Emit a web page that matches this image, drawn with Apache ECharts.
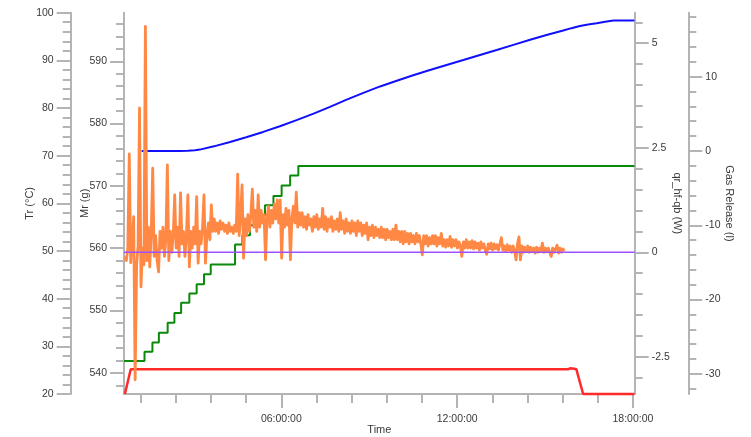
<!DOCTYPE html>
<html><head><meta charset="utf-8">
<script src="https://cdn.jsdelivr.net/npm/echarts@6/dist/echarts.min.js"></script>
<style>html,body{margin:0;padding:0;background:#fff}#c{width:751px;height:437px}</style>
</head><body><div id="c"></div>
<script>
// ---------- data (hours since start / values) ----------
const xMajorTicks = [6, 12, 18];
const xTickLabels = ['06:00:00', '12:00:00', '18:00:00'];
const xMinorTicks = [1.2, 2.4, 3.6, 4.8, 6, 7.2, 8.4, 9.6, 10.8, 12, 13.2, 14.4, 15.6, 16.8, 18];

const trLabels = [20, 30, 40, 50, 60, 70, 80, 90, 100];
const mrLabels = [540, 550, 560, 570, 580, 590];
const qrLabels = [-2.5, 0, 2.5, 5];
const gasLabels = [-30, -20, -10, 0, 10];

// Tr (°C) – red
const trHours  = [0.66, 0.86, 15.78, 15.87, 15.99, 16.07, 16.30, 18.05];
const trValues = [20.0, 25.18, 25.18, 25.4, 25.3, 25.18, 20.0, 20.0];

// Mr (g) – green (dosing steps)
const mrHours  = [0.63, 1.33, 1.60, 1.82, 2.12, 2.35, 2.58, 2.86, 3.11, 3.36, 3.59, 4.42, 4.67, 4.93, 5.19, 5.44, 5.73, 6.01, 6.30, 6.58, 18.05];
const mrValues = [541.88, 543.37, 544.88, 546.42, 548.02, 549.62, 551.23, 552.74, 554.23, 555.83, 557.39, 560.60, 562.09, 563.69, 565.30, 566.90, 568.39, 570.06, 571.66, 573.20, 573.20];

// Gas Release (l) – blue
const gasHours  = [1.23, 2.54, 2.81, 3.05, 3.22, 3.70, 4.25, 4.80, 5.38, 5.95, 6.52, 7.10, 7.66, 8.23, 8.80, 9.37, 9.94, 10.50, 11.07, 11.64, 12.21, 12.78, 13.35, 13.92, 14.49, 15.05, 15.62, 15.90, 16.19, 16.47, 16.76, 17.05, 17.33, 18.05];
const gasValues = [0, 0, 0.02, 0.08, 0.18, 0.62, 1.21, 1.85, 2.56, 3.32, 4.14, 5.02, 5.93, 6.90, 7.82, 8.68, 9.45, 10.18, 10.89, 11.57, 12.24, 12.92, 13.59, 14.27, 14.95, 15.60, 16.20, 16.52, 16.82, 17.02, 17.18, 17.38, 17.54, 17.54];

// qr_hf-qb (W) – orange, sampled every qrStepHour from qrStartHour
const qrStartHour = 0.66;
const qrStepHour = 0.05;
const qrValues = [
 -0.1, -0.2, 0.1, 2.35, -0.25, 0.3, 0.85, -3.05, -0.3, 0.15,
 3.45, -0.83, 0.1, -0.3, 5.40, -0.2, 0.6, -0.35, 0.5, 2.01,
 -0.1, 0.4, -0.2, -0.47, 0.5, 0.1, 0.6, -0.1, 0.3, 2.09,
 -0.2, 0.5, 0.0, 0.4, 1.37, 0.1, 0.6, -0.1, 1.42, 0.2,
 0.5, -0.1, 0.4, 1.37, -0.35, 0.5, 0.1, 0.6, 0.2, 1.33,
 -0.26, 0.5, 0.2, 0.6, 1.37, -0.26, 0.4, 0.7, 0.3, 1.13,
 0.5, 0.8, 0.5, 0.7, 0.45, 0.75, 0.55, 0.7, 0.5, 0.65,
 0.45, 0.7, 0.5, 0.6, 0.45, 0.65, 0.5, 1.87, 0.4, 0.9,
 1.61, -0.14, 0.8, 0.4, 0.9, 0.5, 0.9, 1.51, 0.6, 1.0,
 0.5, 1.37, 0.6, 1.0, 0.7, 0.9, -0.18, 0.8, 1.1, 0.6,
 1.0, 0.7, 1.15, 0.8, 1.25, 0.7, 1.25, -0.14, 0.9, 0.6,
 1.05, 0.65, 1.0, -0.18, 0.8, 1.1, 0.7, 1.44, 0.6, 0.95,
 0.65, 0.95, 0.6, 0.85, 0.55, 0.9, 0.65, 0.8, 0.5, 0.85,
 0.6, 0.9, 0.55, 0.8, 0.6, 1.05, 0.55, 0.85, 0.5, 0.8,
 0.6, 0.85, 0.5, 0.75, 0.55, 0.8, 0.5, 0.95, 0.55, 0.75,
 0.45, 0.8, 0.5, 0.7, 0.45, 0.75, 0.5, 0.7, 0.4, 0.75,
 0.5, 0.7, 0.4, 0.65, 0.45, 0.7, 0.3, 0.6, 0.4, 0.65,
 0.35, 0.6, 0.4, 0.55, 0.35, 0.6, 0.35, 0.55, 0.3, 0.55,
 0.35, 0.5, 0.3, 0.55, 0.3, 0.65, 0.3, 0.5, 0.25, 0.5,
 0.2, 0.5, 0.25, 0.45, 0.2, 0.45, 0.25, 0.4, 0.2, 0.45,
 0.25, 0.4, 0.2, -0.06, 0.4, 0.2, 0.4, 0.15, 0.35, 0.2,
 0.4, 0.2, 0.4, 0.15, 0.35, 0.2, 0.45, 0.15, 0.3, 0.12,
 0.3, 0.15, 0.38, 0.12, 0.3, 0.15, 0.3, 0.1, 0.25, 0.15,
 -0.1, 0.25, 0.1, 0.3, 0.1, 0.25, 0.1, 0.28, 0.08, 0.25,
 0.1, 0.22, 0.05, 0.25, 0.1, 0.2, 0.05, -0.05, 0.2, 0.08,
 0.22, 0.05, 0.2, 0.08, 0.18, 0.05, 0.2, 0.35, 0.05, 0.15,
 0.02, 0.18, 0.05, 0.15, 0.0, 0.15, 0.05, -0.18, 0.2, 0.37,
 -0.18, 0.15, 0.0, 0.12, 0.02, 0.15, 0.0, 0.12, 0.03, 0.1,
 -0.02, 0.12, 0.0, 0.1, 0.02, 0.22, 0.0, 0.1, 0.02, 0.1,
 0.0, -0.1, 0.1, 0.0, 0.08, 0.17, -0.02, 0.1, 0.0, 0.08, 0.03
];

// zero reference line on qr axis – purple
const zeroHours = [0.63, 18.06];
const zeroValues = [0, 0];

// ---------- build ----------
function range(a, b, s) { const r = []; for (let v = a; v <= b + 1e-9; v += s) r.push(+v.toFixed(4)); return r; }
const trMinor = range(20, 100, 2);
const mrMinor = range(538, 596, 2);
const qrMinor = range(-3, 5.5, 0.5);
const gasMinor = range(-32, 18, 2);

const zip = (h, v) => h.map((x, i) => [x, v[i]]);
const qrData = qrValues.map((v, i) => [qrStartHour + i * qrStepHour, v]);

const AX = '#b4b4b4', TXT = '#3a3a3a', FF = "'Liberation Sans', Arial, sans-serif";
const X_MIN = 0.63, X_MAX = 18.06;

function yMain(o) {
  return {
    type: 'value', position: o.pos, offset: o.offset, min: o.min, max: o.max,
    name: o.name, nameLocation: 'middle', nameGap: o.gap, nameRotate: o.rot, nameMoveOverlap: false,
    nameTextStyle: { color: TXT, fontSize: 11, fontFamily: FF },
    axisLine: { show: true, onZero: false, lineStyle: { color: AX, width: 2 } },
    axisTick: { show: true, length: 14, customValues: o.labels, lineStyle: { color: AX, width: 2 } },
    axisLabel: { show: true, customValues: o.labels, margin: 17, color: TXT, fontSize: 10.5, fontFamily: FF },
    splitLine: { show: false }
  };
}
function yMinor(o) {
  return {
    type: 'value', position: o.pos, offset: o.offset, min: o.min, max: o.max,
    axisLine: { show: false, onZero: false },
    axisTick: { show: true, length: 8, customValues: o.minor, lineStyle: { color: AX, width: 2 } },
    axisLabel: { show: false },
    splitLine: { show: false }
  };
}

const axesDef = [
  { pos: 'left', offset: 53.3, min: 20, max: 100, name: 'Tr (°C)', gap: 35, rot: 90, labels: trLabels, minor: trMinor },
  { pos: 'left', offset: 0, min: 536.6, max: 597.8, name: 'Mr (g)', gap: 34, rot: 90, labels: mrLabels, minor: mrMinor },
  { pos: 'right', offset: 0, min: -3.39, max: 5.73, name: 'qr_hf-qb (W)', gap: 37, rot: -90, labels: qrLabels, minor: qrMinor },
  { pos: 'right', offset: 53.6, min: -32.7, max: 18.6, name: 'Gas Release (l)', gap: 35, rot: -90, labels: gasLabels, minor: gasMinor }
];

const yAxis = axesDef.map(yMain).concat(axesDef.map(yMinor));

const xAxis = [
  {
    type: 'value', position: 'bottom', min: X_MIN, max: X_MAX,
    name: 'Time', nameLocation: 'middle', nameGap: 30, nameMoveOverlap: false,
    nameTextStyle: { color: TXT, fontSize: 11, fontFamily: FF },
    axisLine: { show: true, onZero: false, lineStyle: { color: AX, width: 2 } },
    axisTick: { show: true, length: 14, customValues: xMajorTicks, lineStyle: { color: AX, width: 2 } },
    axisLabel: {
      customValues: xMajorTicks, margin: 20, color: TXT, fontSize: 10.5, fontFamily: FF,
      formatter: v => { const k = xMajorTicks.indexOf(Math.round(v)); return k >= 0 ? xTickLabels[k] : ''; }
    },
    splitLine: { show: false }
  },
  {
    type: 'value', position: 'bottom', min: X_MIN, max: X_MAX,
    axisLine: { show: false, onZero: false },
    axisTick: { show: true, length: 9, customValues: xMinorTicks, lineStyle: { color: AX, width: 2 } },
    axisLabel: { show: false },
    splitLine: { show: false }
  }
];

const base = { type: 'line', showSymbol: false, symbol: 'none', animation: false };

const option = {
  animation: false,
  backgroundColor: '#fff',
  grid: { left: 124, right: 116.3, top: 12.7, bottom: 43, containLabel: false, outerBoundsMode: 'none' },
  xAxis, yAxis,
  series: [
    Object.assign({}, base, { name: 'Mr', yAxisIndex: 1, step: 'end', data: zip(mrHours, mrValues),
      lineStyle: { color: '#0a8a0a', width: 2 }, itemStyle: { color: '#0a8a0a' }, z: 2 }),
    Object.assign({}, base, { name: 'Gas', yAxisIndex: 3, data: zip(gasHours, gasValues),
      lineStyle: { color: '#1010ff', width: 2 }, itemStyle: { color: '#1010ff' }, z: 3 }),
    Object.assign({}, base, { name: 'Tr', yAxisIndex: 0, clip: false, data: zip(trHours, trValues),
      lineStyle: { color: '#ff2a2a', width: 2.5 }, itemStyle: { color: '#ff2a2a' }, z: 4 }),
    Object.assign({}, base, { name: 'qr', yAxisIndex: 2, data: qrData,
      lineStyle: { color: '#ff8844', width: 2.8, join: 'round' }, itemStyle: { color: '#ff8844' }, z: 5 }),
    Object.assign({}, base, { name: 'zero', yAxisIndex: 2, data: zip(zeroHours, zeroValues),
      lineStyle: { color: '#a050ff', width: 1.3 }, itemStyle: { color: '#a050ff' }, z: 6 })
  ]
};

const chart = echarts.init(document.getElementById('c'), null, { renderer: 'canvas' });
chart.setOption(option);
</script>
</body></html>
